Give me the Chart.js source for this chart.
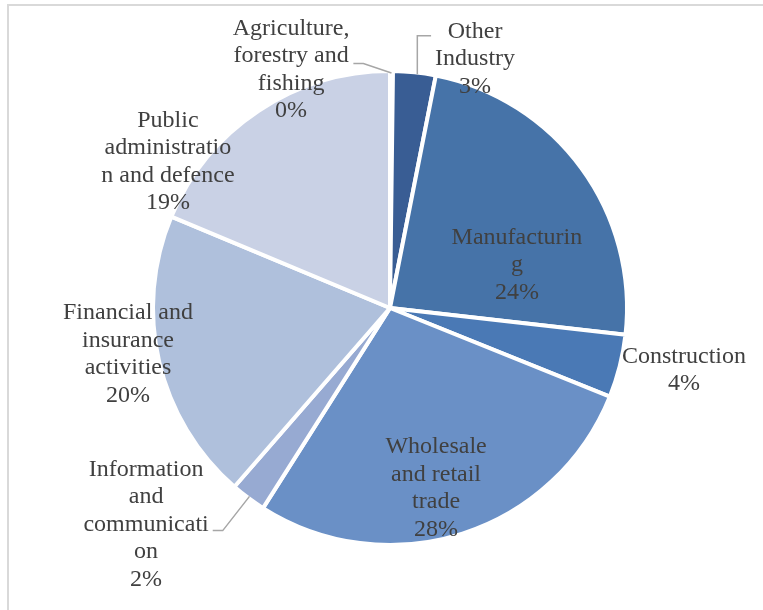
<!DOCTYPE html>
<html>
<head>
<meta charset="utf-8">
<script src="https://cdn.jsdelivr.net/npm/chart.js@4.4.0/dist/chart.umd.min.js"></script>
<style>
  html, body { margin: 0; padding: 0; background: #fff; overflow: hidden; }
  #wrap { position: relative; width: 763px; height: 610px; }
</style>
</head>
<body>
<div id="wrap"><canvas id="industryChart"></canvas></div>
<script>
// Employment share by industry (%), clockwise from 12 o'clock
const sectors = [
  'Agriculture, forestry and fishing',
  'Other Industry',
  'Manufacturing',
  'Construction',
  'Wholesale and retail trade',
  'Information and communication',
  'Financial and insurance activities',
  'Public administration and defence'
];
const shares = [0.2, 2.9, 23.7, 4.3, 27.9, 2.4, 19.9, 18.7];

// label text as it wraps on the chart
const labelLines = [
  ['Agriculture,', 'forestry and', 'fishing'],
  ['Other', 'Industry'],
  ['Manufacturin', 'g'],
  ['Construction'],
  ['Wholesale', 'and retail', 'trade'],
  ['Information', 'and', 'communicati', 'on'],
  ['Financial and', 'insurance', 'activities'],
  ['Public', 'administratio', 'n and defence']
];

const sliceColors = ['#2f528f', '#395d94', '#4673a8', '#4a79b5', '#6a90c6', '#97aad2', '#afc0dc', '#c9d1e5'];

// label block centre, as a multiple of the pie radius from the pie centre
const labelPos = [
  [-0.421, -1.015], [0.362, -1.06], [0.540, -0.183], [1.251, 0.264],
  [0.196, 0.766], [-1.038, 0.921], [-1.115, 0.196], [-0.945, -0.623]
];
// leader lines: where along the label block height they attach
const leaders = { 0: 0.445, 1: 0.22, 5: 0.545 };

const FONT = '24px "Liberation Serif", "Times New Roman", serif';
const LINE_H = 27.5;

const frame = {
  id: 'frame',
  beforeDraw(chart) {
    const ctx = chart.ctx;
    ctx.save();
    ctx.strokeStyle = '#d9d9d9';
    ctx.lineWidth = 2;
    ctx.beginPath();
    ctx.moveTo(8, chart.height);
    ctx.lineTo(8, 5);
    ctx.lineTo(chart.width, 5);
    ctx.stroke();
    ctx.restore();
  }
};

const sliceLabels = {
  id: 'sliceLabels',
  afterDatasetsDraw(chart) {
    const ctx = chart.ctx;
    const arcs = chart.getDatasetMeta(0).data;
    ctx.save();
    ctx.font = FONT;
    ctx.fillStyle = '#404040';
    ctx.textAlign = 'center';
    ctx.textBaseline = 'middle';

    arcs.forEach((arc, i) => {
      const { x, y, startAngle, endAngle, outerRadius } = arc.getProps(['x', 'y', 'startAngle', 'endAngle', 'outerRadius'], true);
      const r = outerRadius - 2;
      const lines = labelLines[i].concat(Math.round(shares[i]) + '%');
      const lx = x + labelPos[i][0] * r;
      const ly = y + labelPos[i][1] * r;
      const blockH = lines.length * LINE_H;

      lines.forEach((t, k) => {
        ctx.fillText(t, lx, ly + (k - (lines.length - 1) / 2) * LINE_H);
      });

      if (leaders[i] !== undefined) {
        const mid = (startAngle + endAngle) / 2;
        const px = x + Math.cos(mid) * r;
        const py = y + Math.sin(mid) * r;
        const maxW = Math.max(...lines.map(t => ctx.measureText(t).width));
        const ty = ly - blockH / 2 + leaders[i] * blockH;
        const left = lx < px;
        const tx = left ? lx + maxW / 2 + 4 : lx - maxW / 2 - 4;
        // short horizontal stub at the label, then straight to the slice;
        // when the slice sits nearly under the stub the drop goes vertical
        const ex = Math.abs(tx - px) < 25 ? px + (left ? -2 : 3) : (left ? tx + 10 : tx - 12);
        ctx.strokeStyle = '#a6a6a6';
        ctx.lineWidth = 1.5;
        ctx.beginPath();
        ctx.moveTo(tx, ty);
        ctx.lineTo(ex, ty);
        ctx.lineTo(Math.abs(tx - px) < 25 ? ex : px, py);
        ctx.stroke();
      }
    });
    ctx.restore();
  }
};

new Chart(document.getElementById('industryChart'), {
  type: 'pie',
  data: {
    labels: sectors,
    datasets: [{
      data: shares,
      backgroundColor: sliceColors,
      borderColor: '#ffffff',
      borderWidth: 4
    }]
  },
  options: {
    responsive: true,
    maintainAspectRatio: false,
    animation: false,
    layout: { padding: { top: 69, bottom: 63, left: 151, right: 134 } },
    plugins: {
      legend: { display: false },
      tooltip: { enabled: false }
    }
  },
  plugins: [frame, sliceLabels]
});
</script>
</body>
</html>
